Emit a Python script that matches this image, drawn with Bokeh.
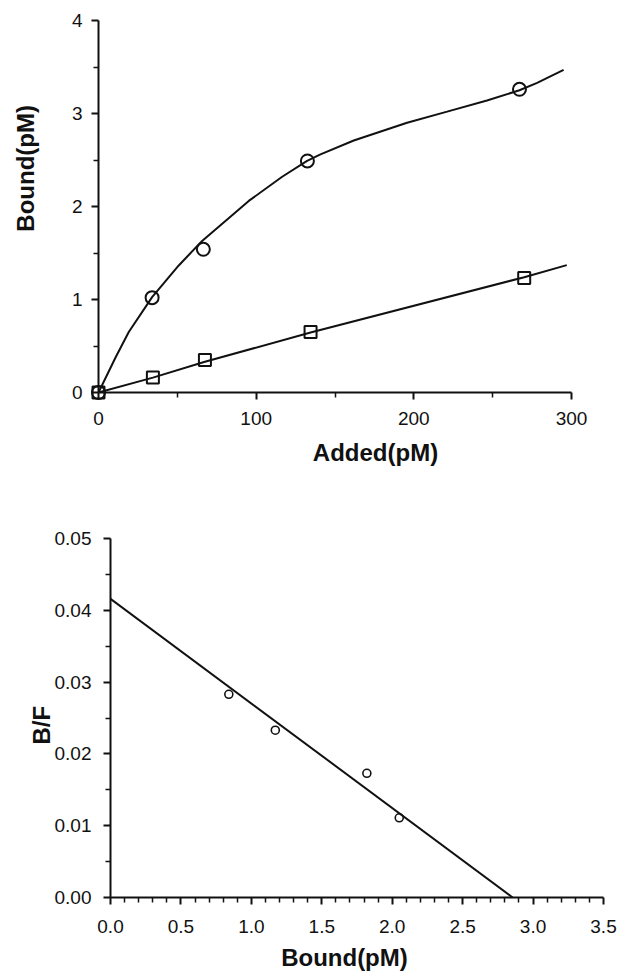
import math
from bokeh.plotting import figure
from bokeh.layouts import column, row
from bokeh.models import Range1d, FixedTicker, NumeralTickFormatter, Spacer
from bokeh.core.properties import value
from bokeh.embed import file_html
from bokeh.resources import INLINE

# ---------------- data: top panel (Bound vs Added) ----------------
added_circle = [0, 34, 66.5, 132.5, 267]
bound_circle = [0, 1.02, 1.54, 2.49, 3.26]
added_square = [0, 34.5, 67.5, 134.5, 270]
bound_square = [0, 0.16, 0.35, 0.65, 1.23]

fit_circle_x = [0, 10.8, 19.2, 34, 50.9, 65.7, 95.3, 116.5, 132.3, 140.8, 161.9,
                195.7, 221.1, 246.4, 267, 278.2, 295]
fit_circle_y = [0, 0.376, 0.65, 1.025, 1.366, 1.63, 2.06, 2.32, 2.49, 2.56, 2.71,
                2.90, 3.02, 3.14, 3.25, 3.33, 3.47]
fit_square_x = [0, 34.5, 67.5, 134.5, 270, 297]
fit_square_y = [0, 0.16, 0.33, 0.645, 1.24, 1.37]

top_x_ticks = [0, 100, 200, 300]
top_x_minor = [50, 150, 250]
top_y_ticks = [0, 1, 2, 3, 4]
top_y_minor = [0.5, 1.5, 2.5, 3.5]
top_x_title = "Added(pM)"
top_y_title = "Bound(pM)"

# ---------------- data: bottom panel (Scatchard) ----------------
scat_bound = [0.84, 1.17, 1.82, 2.05]
scat_bf = [0.0283, 0.0233, 0.0173, 0.0111]
line_bound = [0, 2.855]
line_bf = [0.0416, 0]

bot_x_ticks = [0.0, 0.5, 1.0, 1.5, 2.0, 2.5, 3.0, 3.5]
bot_x_minor = [0.1, 0.2, 0.3, 0.4, 0.6, 0.7, 0.8, 0.9, 1.1, 1.2, 1.3, 1.4,
               1.6, 1.7, 1.8, 1.9, 2.1, 2.2, 2.3, 2.4, 2.6, 2.7, 2.8, 2.9,
               3.1, 3.2, 3.3, 3.4]
bot_y_ticks = [0.0, 0.01, 0.02, 0.03, 0.04, 0.05]
bot_y_minor = [0.005, 0.015, 0.025, 0.035, 0.045]
bot_x_title = "Bound(pM)"
bot_y_title = "B/F"

FONT = "Liberation Sans"
INK = "#111111"


def style_axes(p, x_standoff, y_standoff, tick_size="19px"):
    p.grid.visible = False
    p.outline_line_color = None
    p.background_fill_color = "white"
    p.border_fill_color = "white"
    for ax in p.axis:
        ax.axis_line_width = 2
        ax.axis_line_color = INK
        ax.major_tick_line_color = INK
        ax.minor_tick_line_color = INK
        ax.major_tick_line_width = 2
        ax.minor_tick_line_width = 1.5
        ax.major_tick_in = 0
        ax.major_tick_out = 7
        ax.minor_tick_in = 0
        ax.minor_tick_out = 5
        ax.major_label_text_font = FONT
        ax.major_label_text_font_size = tick_size
        ax.major_label_text_color = INK
    p.xaxis.major_label_standoff = x_standoff
    p.yaxis.major_label_standoff = y_standoff


def add_title_text(p, x, y, txt, angle=0.0):
    r = p.text(x=[x], y=[y], text=[txt], angle=angle,
               text_align="center", text_baseline="middle",
               text_font=value(FONT), text_font_size=value("24px"),
               text_font_style="bold", text_color=INK)
    r.level = "overlay"
    return r


# ---------------- top figure ----------------
p1 = figure(frame_width=473, frame_height=372,
            min_border_left=98, min_border_right=49,
            min_border_top=20, min_border_bottom=86,
            x_range=Range1d(0, 300), y_range=Range1d(0, 4),
            output_backend="svg", toolbar_location=None)
p1.xaxis.ticker = FixedTicker(ticks=top_x_ticks, minor_ticks=top_x_minor)
p1.yaxis.ticker = FixedTicker(ticks=top_y_ticks, minor_ticks=top_y_minor)
style_axes(p1, 12, 9)

p1.line(fit_circle_x, fit_circle_y, line_width=2, line_color=INK)
p1.line(fit_square_x, fit_square_y, line_width=2, line_color=INK)
r = p1.scatter(added_circle, bound_circle, marker="circle", size=13,
               fill_color=None, line_color=INK, line_width=2)
r.level = "overlay"
r = p1.scatter(added_square, bound_square, marker="square", size=12,
               fill_color=None, line_color=INK, line_width=2)
r.level = "overlay"

add_title_text(p1, 175.7, -0.645, top_x_title)
add_title_text(p1, -46.3, 2.41, top_y_title, angle=math.pi / 2)

# ---------------- bottom figure ----------------
p2 = figure(frame_width=493, frame_height=359,
            min_border_left=98, min_border_right=17,
            min_border_top=60, min_border_bottom=79,
            x_range=Range1d(0, 3.5), y_range=Range1d(0, 0.05),
            output_backend="svg", toolbar_location=None)
p2.xaxis.ticker = FixedTicker(ticks=bot_x_ticks, minor_ticks=bot_x_minor)
p2.yaxis.ticker = FixedTicker(ticks=bot_y_ticks, minor_ticks=bot_y_minor)
p2.xaxis.formatter = NumeralTickFormatter(format="0.0")
p2.yaxis.formatter = NumeralTickFormatter(format="0.00")
style_axes(p2, 15, 12)

p2.line(line_bound, line_bf, line_width=2, line_color=INK)
p2.scatter(scat_bound, scat_bf, marker="circle", size=8,
           fill_color=None, line_color=INK, line_width=1.6)

add_title_text(p2, 1.661, -0.0083, bot_x_title)
add_title_text(p2, -0.49, 0.024, bot_y_title, angle=math.pi / 2)

layout = column(p1, row(Spacer(width=12), p2, spacing=0), spacing=0)
open("out.html", "w").write(file_html(layout, INLINE))
